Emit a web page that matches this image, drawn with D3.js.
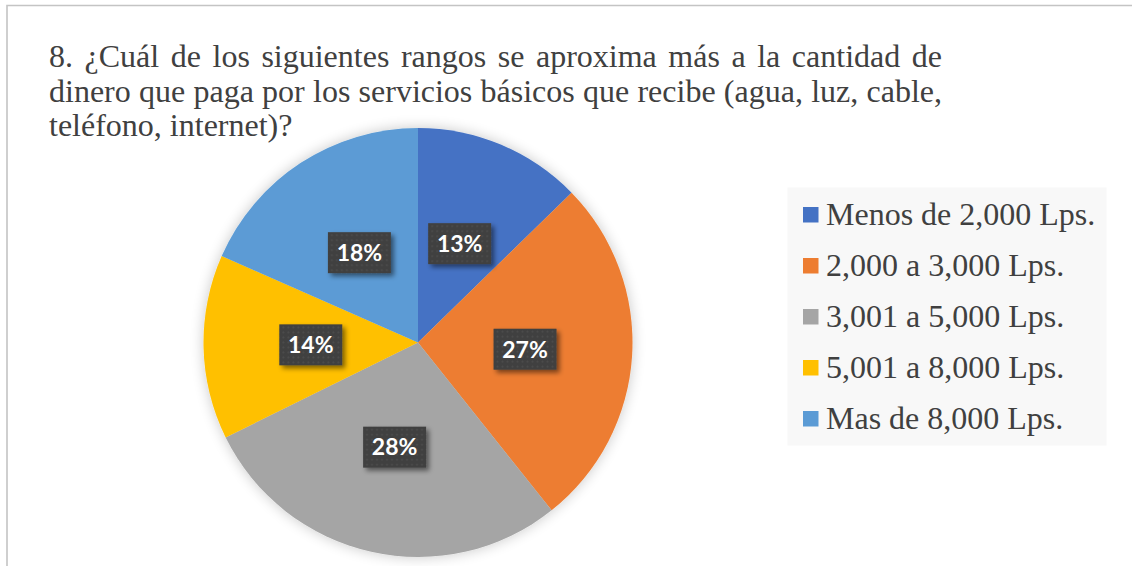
<!DOCTYPE html>
<html>
<head>
<meta charset="utf-8">
<script src="https://cdn.jsdelivr.net/npm/d3@7"></script>
<style>
  body { margin: 0; background: #fff; overflow: hidden; }
  svg { display: block; }
</style>
</head>
<body>
<div id="viz"></div>
<script>
var width = 1132,
    height = 566;

// data (percent of answers)
var categories = ["Menos de 2,000 Lps.", "2,000 a 3,000 Lps.", "3,001 a 5,000 Lps.", "5,001 a 8,000 Lps.", "Mas de 8,000 Lps."];
var values = [12.7, 26.6, 28.4, 13.9, 18.4];
var colors = ["#4472C4", "#ED7D31", "#A5A5A5", "#FFC000", "#5B9BD5"];
var titleLines = [
  "8. ¿Cuál de los siguientes rangos se aproxima más a la cantidad de",
  "dinero que paga por los servicios básicos que recibe (agua, luz, cable,",
  "teléfono, internet)?"
];

var pieCenter = {x: 418, y: 342.5},
    radius = 214.5;

var svg = d3.select('#viz').append('svg')
  .attr('width', width)
  .attr('height', height);

var defs = svg.append('defs');

var pieShadow = defs.append('filter').attr('id', 'pieShadow')
  .attr('x', '-20%').attr('y', '-20%').attr('width', '140%').attr('height', '140%');
pieShadow.append('feGaussianBlur').attr('in', 'SourceAlpha').attr('stdDeviation', 7).attr('result', 'blur');
pieShadow.append('feComponentTransfer').attr('in', 'blur').attr('result', 'soft')
  .append('feFuncA').attr('type', 'linear').attr('slope', 0.22);
var m1 = pieShadow.append('feMerge');
m1.append('feMergeNode').attr('in', 'soft');
m1.append('feMergeNode').attr('in', 'SourceGraphic');

var boxShadow = defs.append('filter').attr('id', 'boxShadow')
  .attr('x', '-30%').attr('y', '-30%').attr('width', '170%').attr('height', '170%');
boxShadow.append('feGaussianBlur').attr('in', 'SourceAlpha').attr('stdDeviation', 2.5).attr('result', 'blur');
boxShadow.append('feOffset').attr('in', 'blur').attr('dx', 3).attr('dy', 3).attr('result', 'off');
boxShadow.append('feComponentTransfer').attr('in', 'off').attr('result', 'soft')
  .append('feFuncA').attr('type', 'linear').attr('slope', 0.5);
var m2 = boxShadow.append('feMerge');
m2.append('feMergeNode').attr('in', 'soft');
m2.append('feMergeNode').attr('in', 'SourceGraphic');

var dots = defs.append('pattern').attr('id', 'dots')
  .attr('width', 5).attr('height', 5).attr('patternUnits', 'userSpaceOnUse');
dots.append('rect').attr('width', 5).attr('height', 5).attr('fill', '#404040');
dots.append('circle').attr('cx', 2.5).attr('cy', 2.5).attr('r', 1).attr('fill', '#4d4d4d');

// chart area border (only left and top edges are inside the picture)
svg.append('path')
  .attr('d', 'M7,' + height + 'V5.5H' + width)
  .attr('fill', 'none')
  .attr('stroke', '#c4c4c4')
  .attr('stroke-width', 1.6);

// title, justified like in Word
var titleLeft = 49, titleRight = 942, titleTop = 67, lineStep = 34.6;
var title = svg.append('g')
  .attr('font-family', '"Liberation Serif", "Times New Roman", serif')
  .attr('font-size', 32)
  .attr('fill', '#404040');

titleLines.forEach(function(line, i) {
  var y = titleTop + i * lineStep;
  if (i === titleLines.length - 1) {
    title.append('text').attr('x', titleLeft).attr('y', y).text(line);
    return;
  }
  var words = line.split(' ');
  var nodes = words.map(function(w) {
    return title.append('text').attr('y', y).text(w);
  });
  var widths = nodes.map(function(n) { return n.node().getComputedTextLength(); });
  var gap = (titleRight - titleLeft - d3.sum(widths)) / (words.length - 1);
  var x = titleLeft;
  nodes.forEach(function(n, j) {
    n.attr('x', x);
    x += widths[j] + gap;
  });
});

// pie
var pie = d3.pie().sort(null).value(function(d) { return d; });
var arc = d3.arc().innerRadius(0).outerRadius(radius);
var arcs = pie(values);
var total = d3.sum(values);
var pct = d3.format('.0%');

var pieG = svg.append('g')
  .attr('transform', 'translate(' + pieCenter.x + ',' + pieCenter.y + ')');

pieG.append('g')
  .attr('filter', 'url(#pieShadow)')
  .selectAll('path')
  .data(arcs)
  .join('path')
  .attr('d', arc)
  .attr('fill', function(d, i) { return colors[i]; });

// data labels in dark boxes
var boxW = 63, boxH = 41;
var labels = pieG.selectAll('g.label')
  .data(arcs)
  .join('g')
  .attr('class', 'label')
  .attr('transform', function(d) {
    var c = arc.centroid(d);
    return 'translate(' + c[0] + ',' + c[1] + ')';
  });

labels.append('rect')
  .attr('x', -boxW / 2).attr('y', -boxH / 2)
  .attr('width', boxW).attr('height', boxH)
  .attr('fill', 'url(#dots)')
  .attr('filter', 'url(#boxShadow)');

labels.append('text')
  .attr('text-anchor', 'middle')
  .attr('dy', '0.36em')
  .attr('font-family', 'Lato, "Open Sans", sans-serif')
  .attr('font-weight', 'bold')
  .attr('font-size', 23)
  .attr('fill', '#fff')
  .text(function(d) { return pct(d.value / total); });

// legend
var legend = svg.append('g').attr('class', 'legend');
legend.append('rect')
  .attr('x', 787.5).attr('y', 187.5)
  .attr('width', 319).attr('height', 258)
  .attr('fill', '#f8f8f8');

var legendY = d3.scalePoint()
  .domain(categories)
  .range([224.5, 428.5]);

var items = legend.selectAll('g.item')
  .data(categories)
  .join('g')
  .attr('class', 'item')
  .attr('transform', function(d) { return 'translate(0,' + legendY(d) + ')'; });

items.append('rect')
  .attr('x', 803).attr('y', -17.5)
  .attr('width', 15.5).attr('height', 15.5)
  .attr('fill', function(d, i) { return colors[i]; });

items.append('text')
  .attr('x', 826)
  .attr('font-family', '"Liberation Serif", "Times New Roman", serif')
  .attr('font-size', 32)
  .attr('fill', '#404040')
  .text(function(d) { return d; });
</script>
</body>
</html>
